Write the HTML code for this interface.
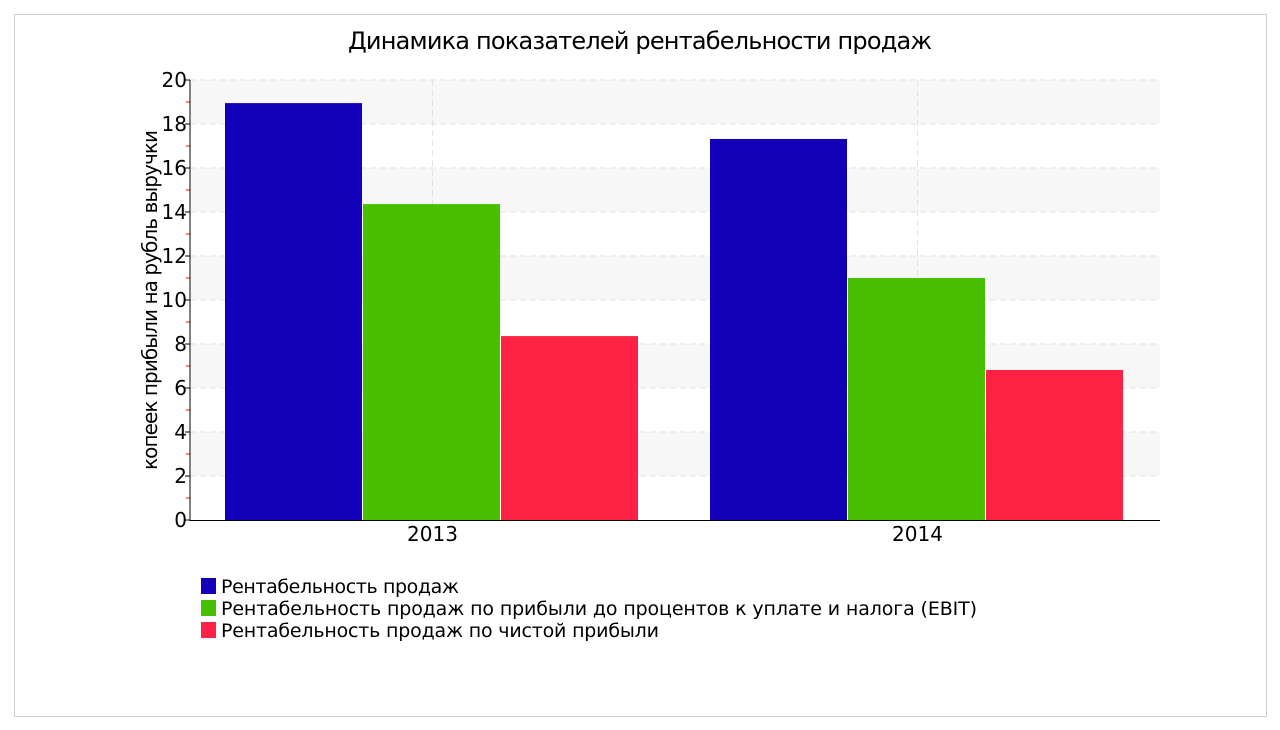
<!DOCTYPE html>
<html><head><meta charset="utf-8"><style>
html,body{margin:0;padding:0;background:#fff;}
svg{display:block;font-family:"DejaVu Sans","Liberation Sans",sans-serif;}
</style></head><body>
<svg id="chart" width="1280" height="730">
<rect x="14.5" y="14.5" width="1252" height="702" fill="#fff" stroke="#cfcfcf"/>
<text x="640" y="49" text-anchor="middle" font-size="24" fill="#000" textLength="584">Динамика показателей рентабельности продаж</text>
<g id="bands"></g><g id="grid"></g><g id="bars"></g><g id="axes"></g>
<text transform="translate(157,300) rotate(-90)" text-anchor="middle" font-size="20" fill="#000" textLength="340">копеек прибыли на рубль выручки</text>
<g id="legend"></g>
</svg>
<script>
const categories = ["2013", "2014"];
const seriesNames = ["Рентабельность продаж", "Рентабельность продаж по прибыли до процентов к уплате и налога (EBIT)", "Рентабельность продаж по чистой прибыли"];
const seriesSales = [18.95, 17.32];
const seriesEbit = [14.36, 11.0];
const seriesNet = [8.36, 6.82];
const yTicks = [0, 2, 4, 6, 8, 10, 12, 14, 16, 18, 20];
const colors = ["#1200b8", "#48c000", "#fd2244"];
const series = [seriesSales, seriesEbit, seriesNet];
const NS = "http://www.w3.org/2000/svg";
const X0 = 190, X1 = 1160, Y0 = 520, Y1 = 80, yMax = 20;
const y = v => Y0 - v / yMax * (Y0 - Y1);
const groupW = (X1 - X0) / categories.length;
const xc = i => X0 + groupW * (i + 0.5);
function mk(tag, attrs, parent) { const e = document.createElementNS(NS, tag); for (const k in attrs) e.setAttribute(k, attrs[k]); document.getElementById(parent).appendChild(e); return e; }
// bands & grid
for (let i = 0; i < yTicks.length - 1; i++) {
  if (i % 2 === 1) {
    const b = mk("rect", {x: X0 + 1, y: y(yTicks[i + 1]), width: X1 - X0 - 1, height: y(yTicks[i]) - y(yTicks[i + 1]), fill: "#f7f7f7"}, "bands");
    
    
  }
}
yTicks.forEach((t, i) => {
  if (t > 0) {
    const g = mk("line", {x1: X0, x2: X1, y1: y(t), y2: y(t), stroke: "#e2e2e2", "stroke-dasharray": "6,4"}, "grid");
    
    
  }
  const tk = mk("line", {x1: X0 - 5, x2: X0, y1: y(t), y2: y(t), stroke: "#000"}, "axes");
  
  
  const lb = mk("text", {x: X0 - 3, y: y(t) + 7, "text-anchor": "end", "font-size": "20", fill: "#000"}, "axes");
  lb.textContent = t;
  
  
  if (i < yTicks.length - 1) {
    const m = mk("line", {x1: X0 - 4, x2: X0, y1: y(t + 1), y2: y(t + 1), stroke: "#ff0000"}, "axes");
    
    
  }
});
categories.forEach((c, i) => {
  const g = mk("line", {x1: xc(i), x2: xc(i), y1: Y1, y2: Y0, stroke: "#e2e2e2", "stroke-dasharray": "6,4"}, "grid");
  
  
  const lb = mk("text", {x: xc(i), y: Y0 + 21, "text-anchor": "middle", "font-size": "20", fill: "#000"}, "axes");
  lb.textContent = c;
  
  
});
// bars
const barW = 138, barsStart = 35;
categories.forEach((c, i) => {
  series.forEach((s, j) => {
    const bx = X0 + groupW * i + barsStart + j * barW;
    const r = mk("rect", {x: bx, y: y(s[i]), width: barW - 1, height: Y0 - y(s[i]), fill: colors[j]}, "bars");
    
    
  });
});
const ax = mk("line", {x1: X0, x2: X0, y1: Y1, y2: Y0 + 1, stroke: "#000"}, "axes");


const bx = mk("line", {x1: X0, x2: X1, y1: Y0 + 0.5, y2: Y0 + 0.5, stroke: "#000"}, "axes");


// legend
const legendLens = [238, 756, 438];
seriesNames.forEach((n, j) => {
  const yy = 578 + j * 22;
  const sw = mk("rect", {x: 201, y: yy, width: 15, height: 16, fill: colors[j]}, "legend");
  
  
  const t = mk("text", {x: 221, y: yy + 15, "font-size": "19", fill: "#000", textLength: legendLens[j]}, "legend");
  t.textContent = n;
  
  
});
</script>
</body></html>
